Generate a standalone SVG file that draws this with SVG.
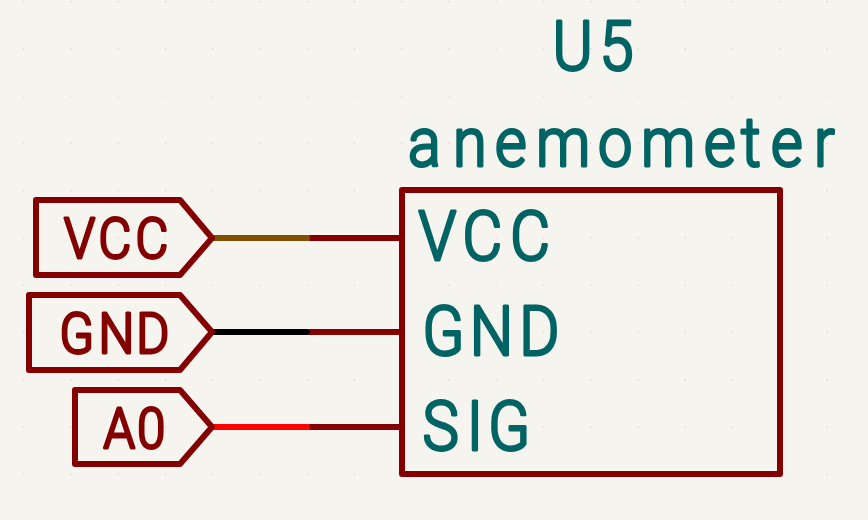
<svg xmlns="http://www.w3.org/2000/svg" width="868" height="520" viewBox="0 0 868 520">
<style>
.sym{fill:none;stroke:#840000;stroke-width:6;stroke-linejoin:round;stroke-linecap:round}
.w{fill:none;stroke-width:6;stroke-linecap:round}
.t{font-family:"Roboto",sans-serif;font-weight:300;stroke-linejoin:round;stroke-width:3}
.teal{fill:#006464;stroke:#006464}
.red{fill:#840000;stroke:#840000}
</style>
<defs>
<pattern id="grid" x="23" y="1" width="47.25" height="47.25" patternUnits="userSpaceOnUse"><rect x="0" y="0" width="1.3" height="1.3" fill="#cfcfc8"/></pattern>
</defs>
<rect width="868" height="520" fill="#f5f4ef"/>
<rect width="868" height="520" fill="url(#grid)"/>
<g id="connectors">
<path class="w" stroke="#840000" d="M310 238H402M310 332H402M310 427H402"/>
<path class="w" stroke="#805000" d="M212 238H307"/>
<path class="w" stroke="#000000" d="M212 332H307"/>
<path class="w" stroke="#ff0000" d="M212 427H307"/>
</g>
<g id="label-vcc">
<path class="sym" d="M36 200H180L212 238L180 275H36Z"/>
<text class="t red" transform="scale(.9,1)" x="71 109.5 150.5" y="258.5" font-size="56">VCC</text>
</g>
<g id="label-gnd">
<path class="sym" d="M29 295H180L212 332L180 370H29Z"/>
<text class="t red" transform="scale(.9,1)" x="66 109.5 151.5" y="353.5" font-size="56">GND</text>
</g>
<g id="label-a0">
<path class="sym" d="M75 390H180L212 427L180 464H75Z"/>
<text class="t red" transform="scale(.9,1)" x="115 152.5" y="448.5" font-size="56">A0</text>
</g>
<g id="u5">
<rect class="sym" x="402" y="190" width="378" height="284"/>
<text class="t teal" transform="scale(.9,1)" x="613.8 666" y="70.5" font-size="68">U5</text>
<text class="t teal" transform="scale(.9,1)" x="453.3 503.3 550 595.6 664.4 712.2 782.2 823.3 856.7 904.4" y="166.5" font-size="68">anemometer</text>
<text class="t teal" transform="scale(.9,1)" x="465 514 567" y="260.5" font-size="68">VCC</text>
<text class="t teal" transform="scale(.9,1)" x="469.5 522 577" y="355.5" font-size="68">GND</text>
<text class="t teal" transform="scale(.9,1)" x="469.5 518.5 542.5" y="450.5" font-size="68">SIG</text>
</g>
</svg>
